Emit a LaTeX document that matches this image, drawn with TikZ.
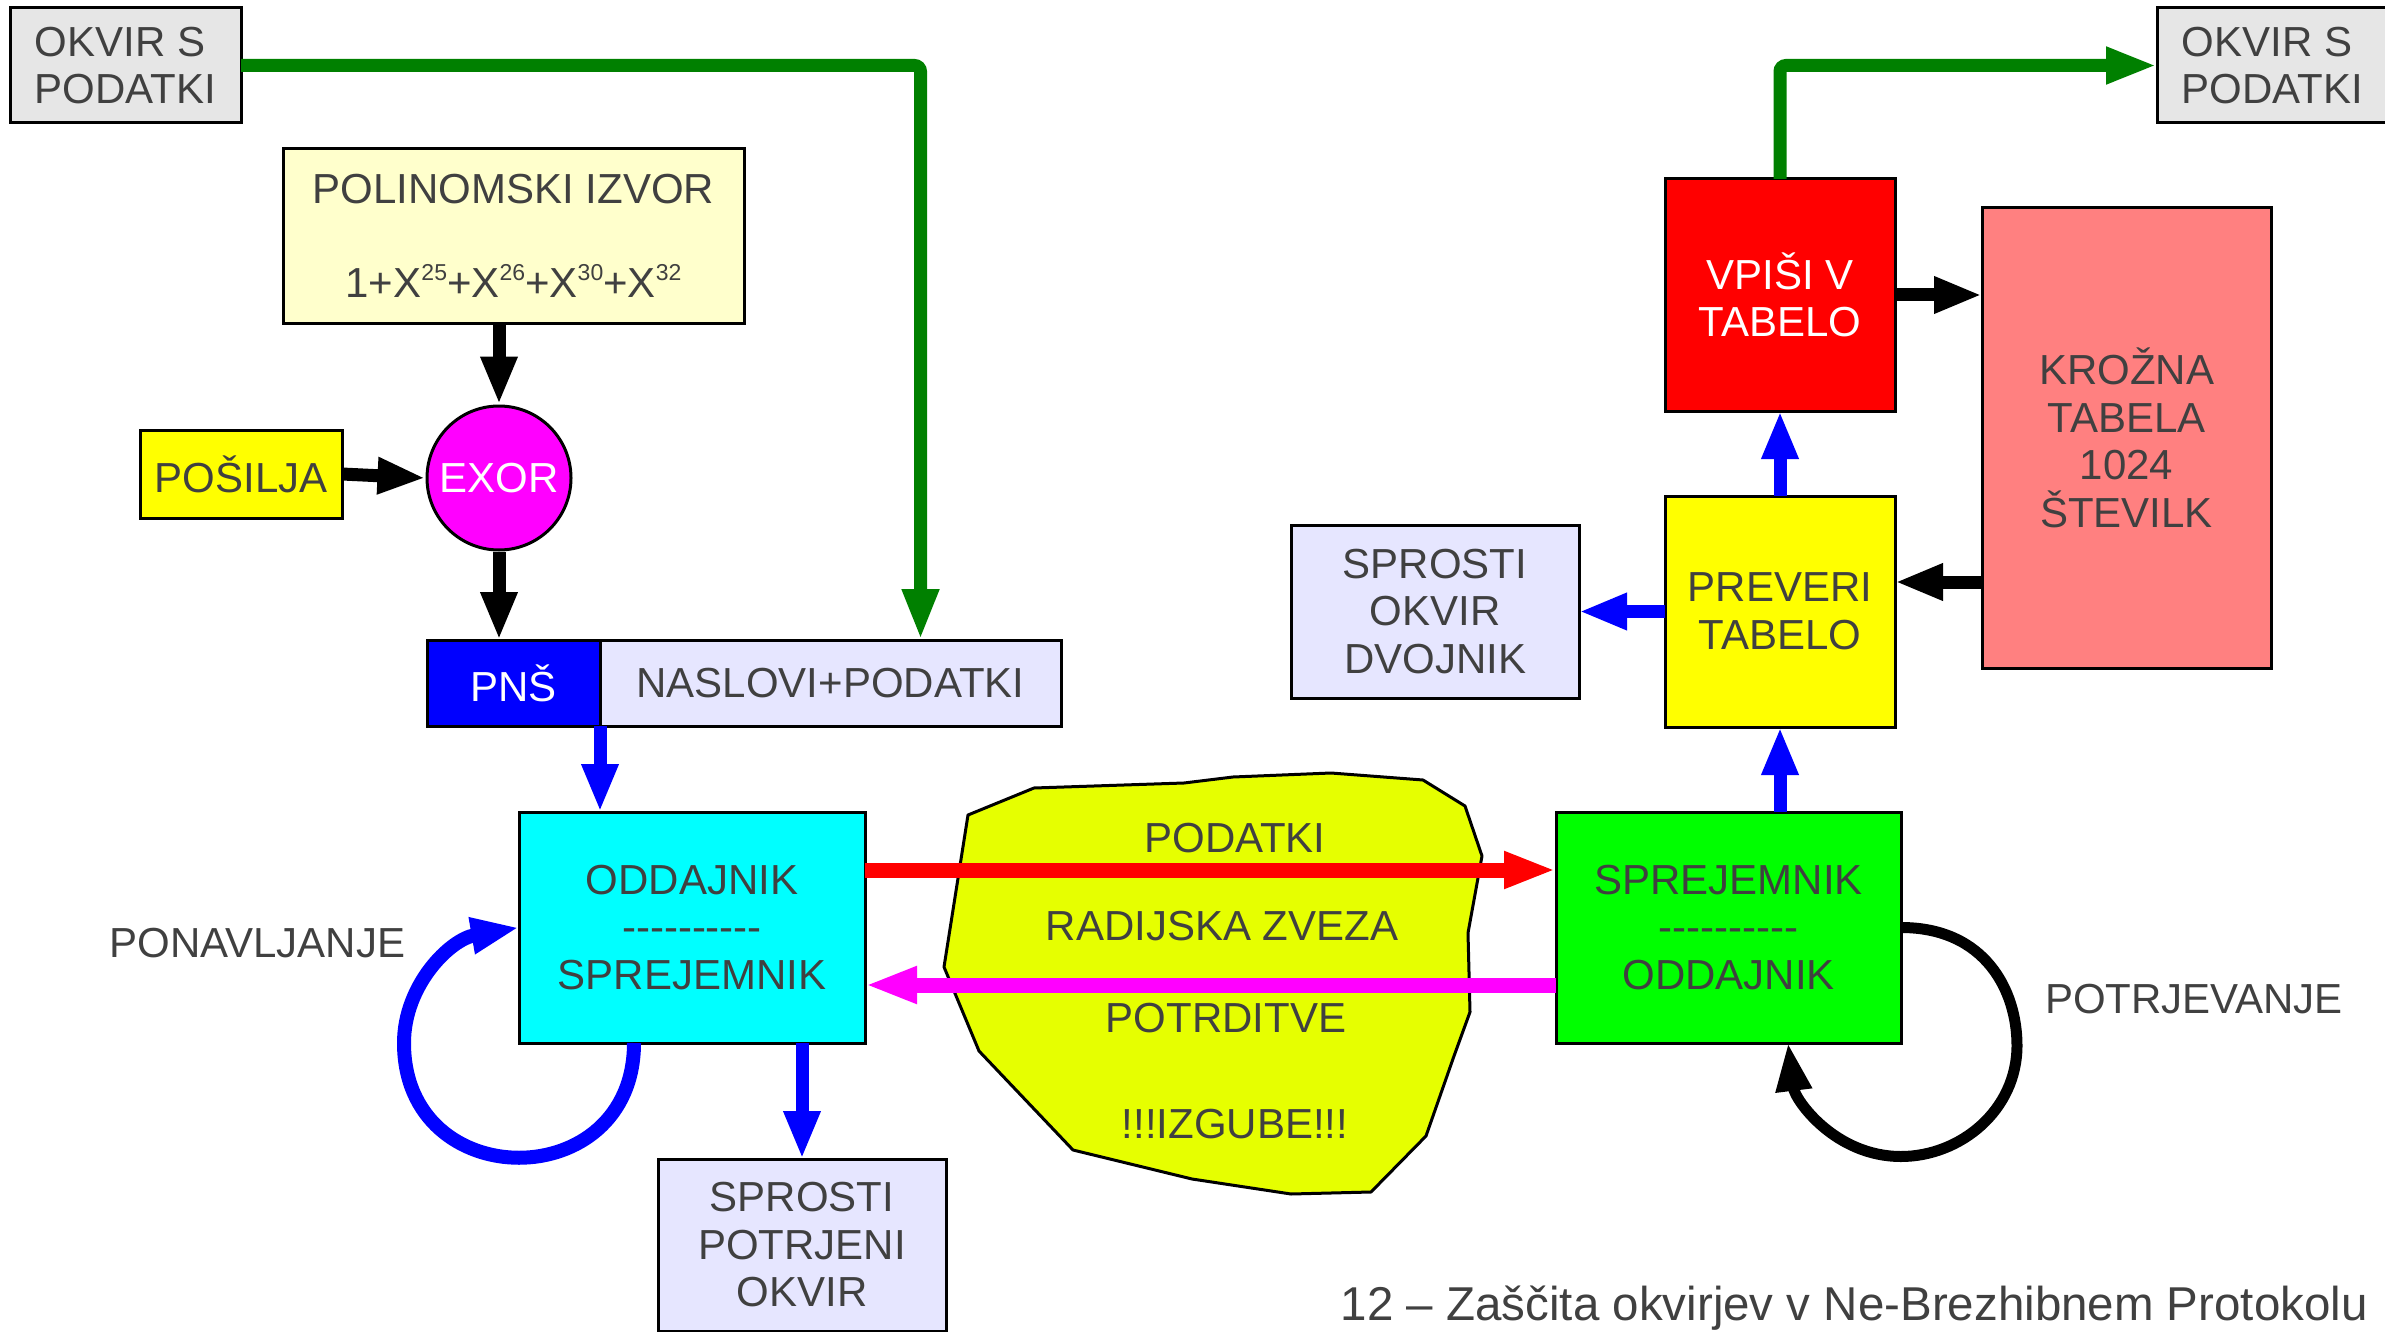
\documentclass[tikz,border=0pt]{standalone}
\usepackage{fontspec}
\setmainfont{Liberation Sans}
\usetikzlibrary{arrows.meta,positioning,calc}
\definecolor{txtgray}{HTML}{404040}
\definecolor{okvirfill}{HTML}{E6E6E6}
\definecolor{polinomfill}{HTML}{FFFFCC}
\definecolor{lavender}{HTML}{E6E6FF}
\definecolor{kroznafill}{HTML}{FF8080}
\definecolor{blobfill}{HTML}{E6FF00}
\definecolor{flowgreen}{HTML}{008000}
\definecolor{pureblue}{HTML}{0000FF}
\definecolor{purered}{HTML}{FF0000}
\definecolor{puregreen}{HTML}{00FF00}
\definecolor{pureyellow}{HTML}{FFFF00}
\definecolor{purecyan}{HTML}{00FFFF}
\definecolor{puremagenta}{HTML}{FF00FF}
\newcommand{\lblfont}{\fontsize{42}{47.5}\selectfont}
\newcommand{\capfont}{\fontsize{47.5}{52}\selectfont}
\newcommand{\sepline}{\mbox{-}\mbox{-}\mbox{-}\mbox{-}\mbox{-}\mbox{-}\mbox{-}\mbox{-}\mbox{-}\mbox{-}}
\newcommand{\sups}[1]{\raisebox{17pt}{\fontsize{23}{23}\selectfont #1}}
\tikzset{
  blockbox/.style = {draw=black, line width=3pt, inner sep=0pt, outer sep=0pt, align=center, text=txtgray, font=\lblfont},
  okvirbox/.style = {blockbox, fill=okvirfill, align=left, minimum width=231pt, minimum height=115pt},
  plainlabel/.style = {inner sep=0pt, text=txtgray, font=\lblfont},
  flowarrow/.style = {line width=13pt, -{Triangle[length=48pt,width=34pt]}},
  blackflow/.style = {flowarrow, draw=black},
  blueflow/.style = {flowarrow, draw=pureblue},
  redflow/.style = {flowarrow, line width=15pt, draw=purered, -{Triangle[length=52pt,width=34pt]}},
  pinkflow/.style = {flowarrow, line width=15pt, draw=puremagenta, -{Triangle[length=52pt,width=34pt]}},
  greenflow/.style = {flowarrow, draw=flowgreen, rounded corners=6pt, -{Triangle[length=51pt,width=34pt]}},
  loopflow/.style = {line width=14pt, -{Triangle[length=48pt,width=34pt]}},
}
\begin{document}
\begin{tikzpicture}[x=1pt, y=-1pt]
\useasboundingbox (0,0) rectangle (2385,1332);

% radijska zveza: the blob in the middle
\draw[line width=3pt, fill=blobfill, line join=round]
  (968,815) -- (1034,788) -- (1184,783) -- (1233,777) -- (1331,773) -- (1423,780)
  -- (1465,806) -- (1482,856) -- (1468,933) -- (1470,1012) -- (1454,1056)
  -- (1426,1136) -- (1371,1192) -- (1291,1194) -- (1192,1179) -- (1073,1150)
  -- (979,1051) -- (944,967) -- cycle;

% sender side
\node[okvirbox] (okvirL) at (125.5,65.5) {OKVIR S\\PODATKI};
\node[blockbox, fill=polinomfill, minimum width=461pt, minimum height=174pt] (polinom) at (513.5,236)
  {POLINOMSKI IZVOR\\[47pt]1+X\sups{25}+X\sups{26}+X\sups{30}+X\sups{32}};
\node[circle, draw=black, line width=3pt, fill=puremagenta, text=white, font=\lblfont, minimum size=144pt, inner sep=0pt] (exor) at (499,478) {EXOR};
\node[blockbox, fill=pureyellow, minimum width=202pt, minimum height=88pt] (posilja) at (241,474) {POŠILJA};
\node[blockbox, fill=pureblue, text=white, minimum width=173pt, minimum height=86pt] (pns) at (513.5,683) {PNŠ};
\node[blockbox, fill=lavender, minimum width=461pt, minimum height=86pt, right=0pt of pns] (naslovi) {NASLOVI+PODATKI};
\node[blockbox, fill=purecyan, minimum width=346pt, minimum height=231pt] (oddajnik) at (692,927.5) {ODDAJNIK\\\sepline\\SPREJEMNIK};
\node[blockbox, fill=lavender, minimum width=288pt, minimum height=172pt] (potrjeni) at (802,1245) {SPROSTI\\POTRJENI\\OKVIR};
\node[plainlabel] (ponavlj) at (257.5,943) {PONAVLJANJE};

% receiver side
\node[blockbox, fill=puregreen, minimum width=345pt, minimum height=231pt] (sprejemnik) at (1728.5,927.5) {SPREJEMNIK\\\sepline\\ODDAJNIK};
\node[blockbox, fill=pureyellow, minimum width=230pt, minimum height=231pt] (preveri) at (1780,611.5) {PREVERI\\TABELO};
\node[blockbox, fill=purered, text=white, minimum width=230pt, minimum height=232pt, above=85pt of preveri] (vpisi) {VPIŠI V\\TABELO};
\node[blockbox, fill=kroznafill, minimum width=289pt, minimum height=460pt] (krozna) at (2126.5,438) {KROŽNA\\TABELA\\1024\\ŠTEVILK};
\node[blockbox, fill=lavender, minimum width=288pt, minimum height=173pt] (dvojnik) at (1435,611.5) {SPROSTI\\OKVIR\\DVOJNIK};
\node[okvirbox] (okvirR) at (2272.5,65.5) {OKVIR S\\PODATKI};
\node[plainlabel] (potrjev) at (2194,999) {POTRJEVANJE};

% texts on the blob
\node[plainlabel] (podatki) at (1235,838) {PODATKI};
\node[plainlabel] (radijska) at (1222,926) {RADIJSKA ZVEZA};
\node[plainlabel] (potrditve) at (1226,1018) {POTRDITVE};
\node[plainlabel] (izgube) at (1235,1124) {!!!IZGUBE!!!};

% caption
\node[plainlabel, font=\capfont, anchor=base east] (naslov) at (2368,1320) {12 – Zaščita okvirjev v Ne-Brezhibnem Protokolu};

% arrows
\draw[greenflow] (okvirL.east) -| ($(naslovi.north)+(90,0)$);
\draw[greenflow] (vpisi.north) |- (okvirR.west);
\draw[blackflow] (exor.north |- polinom.south) -- (exor.north);
\draw[blackflow] (posilja.east) -- (exor.west);
\draw[blackflow] (exor.south) -- (exor.south |- pns.north);
\draw[blueflow] (pns.south east) -- (pns.south east |- oddajnik.north);
\draw[blueflow] (potrjeni.north |- oddajnik.south) -- (potrjeni.north);
\draw[redflow] ([yshift=57.5pt]oddajnik.east) -- ([yshift=57.5pt]sprejemnik.west);
\draw[pinkflow] ([yshift=-57.5pt]sprejemnik.west) -- ([yshift=-57.5pt]oddajnik.east);
\draw[blueflow] (preveri.south |- sprejemnik.north) -- (preveri.south);
\draw[blueflow] (preveri.north) -- (vpisi.south);
\draw[blueflow] (preveri.west) -- (dvojnik.east);
\draw[blackflow] (vpisi.east) -- (vpisi.east -| krozna.west);
\coordinate (kin) at ([yshift=29.5pt]preveri.east);
\draw[blackflow] (kin -| krozna.west) -- (kin);

% loops
\draw[loopflow, draw=pureblue] ($(oddajnik.south)+(-58,0)$) .. controls +(0,153) and +(0,153) .. ($(oddajnik.south)+(-288,0)$)
  .. controls +(0,-58) and +(-69,12) .. (oddajnik.west);
\draw[loopflow, draw=black, line width=11pt] (sprejemnik.east) .. controls +(84,0) and +(0,-55) .. ($(sprejemnik.east)+(116,118)$)
  .. controls +(0,65) and +(59,0) .. ($(sprejemnik.east)+(0,229)$)
  .. controls +(-66,0) and +(7,57) .. ($(sprejemnik.south)+(59.5,0)$);
\end{tikzpicture}
\end{document}
